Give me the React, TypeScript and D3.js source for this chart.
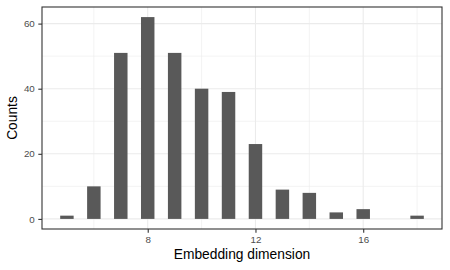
import { useEffect, useRef } from "react";
import * as d3 from "d3";

const dims = [5, 6, 7, 8, 9, 10, 11, 12, 13, 14, 15, 16, 17, 18];
const counts = [1, 10, 51, 62, 51, 40, 39, 23, 9, 8, 2, 3, 0, 1];
const xTicks = [8, 12, 16];
const xMinor = [6, 10, 14, 18];
const yTicks = [0, 20, 40, 60];
const yMinor = [10, 30, 50];

export default function App() {
  const svgRef = useRef<SVGSVGElement>(null);

  useEffect(() => {
    if (!svgRef.current) return;
    const width = 450;
    const height = 270;
    const margin = { top: 7, right: 8, bottom: 41, left: 42 };
    const innerW = width - margin.left - margin.right;
    const innerH = height - margin.top - margin.bottom;

    const svg = d3.select(svgRef.current);
    svg.selectAll("*").remove();

    const barW = 0.5;
    const xLo = d3.min(dims)! - barW / 2;
    const xHi = d3.max(dims)! + barW / 2;
    const xPad = (xHi - xLo) * 0.05;
    const x = d3.scaleLinear().domain([xLo - xPad, xHi + xPad]).range([0, innerW]);
    const yMax = d3.max(counts)!;
    const y = d3
      .scaleLinear()
      .domain([-yMax * 0.05, yMax * 1.05])
      .range([innerH, 0]);

    const font = "'Liberation Sans', Arial, Helvetica, sans-serif";
    const g = svg.append("g").attr("transform", `translate(${margin.left},${margin.top})`);

    g.append("rect").attr("width", innerW).attr("height", innerH).attr("fill", "white");

    // minor grid
    g.selectAll(".xminor")
      .data(xMinor)
      .join("line")
      .attr("x1", (d) => x(d))
      .attr("x2", (d) => x(d))
      .attr("y1", 0)
      .attr("y2", innerH)
      .attr("stroke", "#ebebeb")
      .attr("stroke-width", 0.6);
    g.selectAll(".yminor")
      .data(yMinor)
      .join("line")
      .attr("y1", (d) => y(d))
      .attr("y2", (d) => y(d))
      .attr("x1", 0)
      .attr("x2", innerW)
      .attr("stroke", "#ebebeb")
      .attr("stroke-width", 0.6);
    // major grid
    g.selectAll(".xmajor")
      .data(xTicks)
      .join("line")
      .attr("x1", (d) => x(d))
      .attr("x2", (d) => x(d))
      .attr("y1", 0)
      .attr("y2", innerH)
      .attr("stroke", "#ebebeb")
      .attr("stroke-width", 1.1);
    g.selectAll(".ymajor")
      .data(yTicks)
      .join("line")
      .attr("y1", (d) => y(d))
      .attr("y2", (d) => y(d))
      .attr("x1", 0)
      .attr("x2", innerW)
      .attr("stroke", "#ebebeb")
      .attr("stroke-width", 1.1);

    // bars
    g.selectAll(".bar")
      .data(dims.map((d, i) => ({ d, c: counts[i] })))
      .join("rect")
      .attr("x", (p) => x(p.d - barW / 2))
      .attr("width", (p) => x(p.d + barW / 2) - x(p.d - barW / 2))
      .attr("y", (p) => y(p.c))
      .attr("height", (p) => y(0) - y(p.c))
      .attr("fill", "#595959");

    // panel border
    g.append("rect")
      .attr("width", innerW)
      .attr("height", innerH)
      .attr("fill", "none")
      .attr("stroke", "#333333")
      .attr("stroke-width", 1.1);

    // axes
    const xAxis = g
      .append("g")
      .attr("transform", `translate(0,${innerH})`)
      .call(d3.axisBottom(x).tickValues(xTicks).tickSize(3.7).tickPadding(3.5).tickFormat(d3.format("d")));
    const yAxis = g
      .append("g")
      .call(d3.axisLeft(y).tickValues(yTicks).tickSize(3.7).tickPadding(3.5).tickFormat(d3.format("d")));
    [xAxis, yAxis].forEach((ax) => {
      ax.select(".domain").remove();
      ax.selectAll("line").attr("stroke", "#333333").attr("stroke-width", 1.1);
      ax.selectAll("text")
        .attr("fill", "#4d4d4d")
        .attr("font-size", 9.8)
        .attr("font-family", font);
    });

    svg
      .append("text")
      .attr("x", margin.left + innerW / 2)
      .attr("y", 259)
      .attr("text-anchor", "middle")
      .attr("font-size", 13.8)
      .attr("font-family", font)
      .attr("fill", "black")
      .text("Embedding dimension");

    svg
      .append("text")
      .attr("transform", `translate(16.5,${margin.top + innerH / 2}) rotate(-90)`)
      .attr("text-anchor", "middle")
      .attr("font-size", 13.8)
      .attr("font-family", font)
      .attr("fill", "black")
      .text("Counts");
  }, []);

  return (
    <svg
      ref={svgRef}
      width={450}
      height={270}
      style={{ position: "absolute", left: 0, top: 0, background: "white" }}
    />
  );
}
